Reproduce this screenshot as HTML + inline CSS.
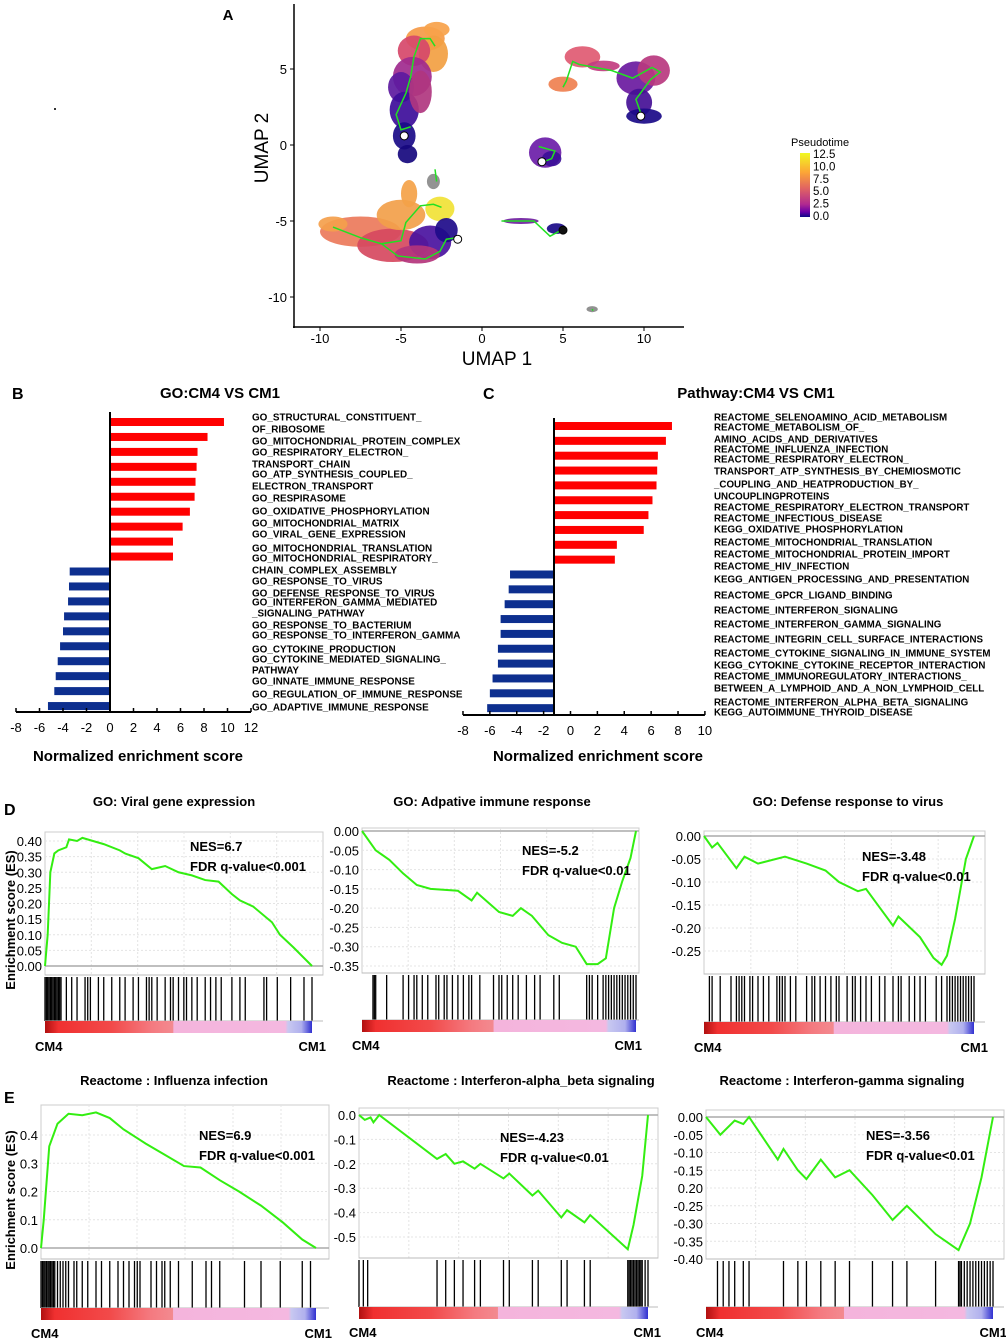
<!DOCTYPE html>
<html><head><meta charset="utf-8"><style>
html,body{margin:0;padding:0;background:#fff}
svg{display:block;font-family:"Liberation Sans",Arial,sans-serif}
</style></head><body>
<svg id="fig" width="1006" height="1339" viewBox="0 0 1006 1339" xmlns="http://www.w3.org/2000/svg">
<text x="228" y="20" font-size="15" font-weight="bold" text-anchor="middle">A</text>
<text x="12" y="399" font-size="16" font-weight="bold">B</text>
<text x="483" y="399" font-size="16" font-weight="bold">C</text>
<text x="4" y="815" font-size="16" font-weight="bold">D</text>
<text x="4" y="1103" font-size="16" font-weight="bold">E</text>
<g id="umap"></g>
<g id="barB"></g>
<g id="barC"></g>
<g id="gsea"></g>
</svg>
<script>
// ===== Bar chart data =====
const goLabels = ["GO_STRUCTURAL_CONSTITUENT_","OF_RIBOSOME","GO_MITOCHONDRIAL_PROTEIN_COMPLEX","GO_RESPIRATORY_ELECTRON_","TRANSPORT_CHAIN","GO_ATP_SYNTHESIS_COUPLED_","ELECTRON_TRANSPORT","GO_RESPIRASOME","GO_OXIDATIVE_PHOSPHORYLATION","GO_MITOCHONDRIAL_MATRIX","GO_VIRAL_GENE_EXPRESSION","GO_MITOCHONDRIAL_TRANSLATION","GO_MITOCHONDRIAL_RESPIRATORY_","CHAIN_COMPLEX_ASSEMBLY","GO_RESPONSE_TO_VIRUS","GO_DEFENSE_RESPONSE_TO_VIRUS","GO_INTERFERON_GAMMA_MEDIATED","_SIGNALING_PATHWAY","GO_RESPONSE_TO_BACTERIUM","GO_RESPONSE_TO_INTERFERON_GAMMA","GO_CYTOKINE_PRODUCTION","GO_CYTOKINE_MEDIATED_SIGNALING_","PATHWAY","GO_INNATE_IMMUNE_RESPONSE","GO_REGULATION_OF_IMMUNE_RESPONSE","GO_ADAPTIVE_IMMUNE_RESPONSE"];
const goLabelY = [417,429,441,452,464,474,486,498,511,523,534,548,558,570,581,593,602,613,625,635,649,659,670,681,694,707];
const goValues = [9.7,8.3,7.45,7.37,7.28,7.2,6.8,6.18,5.36,5.36,-3.43,-3.49,-3.57,-3.91,-4.0,-4.25,-4.45,-4.62,-4.74,-5.28];
const goTicks = [-8,-6,-4,-2,0,2,4,6,8,10,12];
const pwLabels = ["REACTOME_SELENOAMINO_ACID_METABOLISM","REACTOME_METABOLISM_OF_","AMINO_ACIDS_AND_DERIVATIVES","REACTOME_INFLUENZA_INFECTION","REACTOME_RESPIRATORY_ELECTRON_","TRANSPORT_ATP_SYNTHESIS_BY_CHEMIOSMOTIC","_COUPLING_AND_HEATPRODUCTION_BY_","UNCOUPLINGPROTEINS","REACTOME_RESPIRATORY_ELECTRON_TRANSPORT","REACTOME_INFECTIOUS_DISEASE","KEGG_OXIDATIVE_PHOSPHORYLATION","REACTOME_MITOCHONDRIAL_TRANSLATION","REACTOME_MITOCHONDRIAL_PROTEIN_IMPORT","REACTOME_HIV_INFECTION","KEGG_ANTIGEN_PROCESSING_AND_PRESENTATION","REACTOME_GPCR_LIGAND_BINDING","REACTOME_INTERFERON_SIGNALING","REACTOME_INTERFERON_GAMMA_SIGNALING","REACTOME_INTEGRIN_CELL_SURFACE_INTERACTIONS","REACTOME_CYTOKINE_SIGNALING_IN_IMMUNE_SYSTEM","KEGG_CYTOKINE_CYTOKINE_RECEPTOR_INTERACTION","REACTOME_IMMUNOREGULATORY_INTERACTIONS_","BETWEEN_A_LYMPHOID_AND_A_NON_LYMPHOID_CELL","REACTOME_INTERFERON_ALPHA_BETA_SIGNALING","KEGG_AUTOIMMUNE_THYROID_DISEASE"];
const pwLabelY = [417,427,439,449,459,471,484,496,507,518,529,542,554,566,579,595,610,624,639,653,665,676,688,702,712];
const pwValues = [7.55,7.1,6.5,6.45,6.4,6.1,5.8,5.45,3.45,3.3,-4.5,-4.6,-4.9,-5.2,-5.2,-5.4,-5.4,-5.8,-6.0,-6.2];
const pwTicks = [-8,-6,-4,-2,0,2,4,6,8,10];

// ===== GSEA data =====
const d1X=[0,0.01,0.02,0.035,0.05,0.08,0.09,0.12,0.14,0.18,0.22,0.28,0.3,0.35,0.4,0.45,0.5,0.55,0.6,0.65,0.7,0.73,0.78,0.85,0.88,0.93,1];
const d1Y=[0,0.1,0.3,0.36,0.37,0.38,0.405,0.40,0.41,0.40,0.39,0.37,0.36,0.345,0.31,0.32,0.30,0.29,0.275,0.27,0.23,0.21,0.19,0.14,0.1,0.06,0];
const d1Hits=[0,0.005,0.01,0.015,0.02,0.025,0.03,0.035,0.04,0.045,0.05,0.055,0.06,0.08,0.1,0.12,0.15,0.16,0.17,0.2,0.22,0.25,0.28,0.3,0.33,0.35,0.38,0.39,0.4,0.42,0.45,0.47,0.48,0.5,0.52,0.53,0.55,0.57,0.6,0.62,0.64,0.66,0.7,0.73,0.75,0.82,0.83,0.87,0.92,0.97,1];
const d1Ticks=[0,0.05,0.1,0.15,0.2,0.25,0.3,0.35,0.4];
const d2X=[0,0.05,0.1,0.15,0.2,0.25,0.35,0.4,0.42,0.5,0.55,0.58,0.62,0.68,0.73,0.78,0.82,0.86,0.89,0.92,0.95,0.98,1];
const d2Y=[0,-0.05,-0.075,-0.11,-0.14,-0.15,-0.155,-0.18,-0.16,-0.21,-0.22,-0.2,-0.22,-0.27,-0.29,-0.3,-0.345,-0.345,-0.33,-0.2,-0.13,-0.07,0];
const d2Hits=[0.04,0.045,0.05,0.09,0.15,0.17,0.19,0.2,0.22,0.24,0.27,0.28,0.3,0.31,0.33,0.35,0.37,0.39,0.4,0.43,0.48,0.5,0.51,0.53,0.55,0.57,0.6,0.63,0.65,0.7,0.72,0.82,0.83,0.84,0.86,0.88,0.89,0.9,0.91,0.92,0.93,0.94,0.95,0.96,0.97,0.98,0.99,1];
const d2Ticks=[0,-0.05,-0.1,-0.15,-0.2,-0.25,-0.3,-0.35];
const d3X=[0,0.03,0.05,0.12,0.15,0.2,0.3,0.38,0.45,0.5,0.57,0.6,0.65,0.7,0.72,0.8,0.85,0.88,0.9,0.93,0.97,1];
const d3Y=[0,-0.025,-0.015,-0.07,-0.045,-0.06,-0.045,-0.06,-0.075,-0.1,-0.12,-0.115,-0.155,-0.195,-0.175,-0.22,-0.265,-0.28,-0.26,-0.18,-0.05,0];
const d3Hits=[0.02,0.03,0.06,0.1,0.12,0.13,0.14,0.15,0.17,0.18,0.2,0.22,0.24,0.27,0.28,0.29,0.3,0.32,0.34,0.38,0.4,0.41,0.43,0.45,0.47,0.49,0.5,0.53,0.55,0.56,0.58,0.6,0.62,0.65,0.67,0.7,0.72,0.73,0.76,0.78,0.8,0.82,0.86,0.88,0.9,0.91,0.92,0.93,0.94,0.95,0.96,0.97,0.98,0.99,1];
const d3Ticks=[0,-0.05,-0.1,-0.15,-0.2,-0.25];
const e1X=[0,0.01,0.03,0.06,0.1,0.15,0.2,0.25,0.3,0.38,0.45,0.52,0.58,0.65,0.72,0.8,0.88,0.95,1];
const e1Y=[0,0.1,0.36,0.44,0.475,0.47,0.48,0.46,0.42,0.37,0.33,0.29,0.285,0.24,0.2,0.15,0.09,0.03,0];
const e1Hits=[0,0.005,0.01,0.015,0.02,0.025,0.03,0.035,0.04,0.045,0.05,0.06,0.07,0.08,0.09,0.1,0.12,0.13,0.15,0.17,0.2,0.22,0.25,0.28,0.3,0.32,0.34,0.35,0.36,0.4,0.42,0.44,0.45,0.47,0.5,0.55,0.6,0.62,0.65,0.74,0.8,0.87,0.95,0.98];
const e1Ticks=[0,0.1,0.2,0.3,0.4];
const e2Hits=[0.0,0.015,0.03,0.27,0.3,0.33,0.36,0.4,0.42,0.5,0.52,0.6,0.62,0.7,0.72,0.78,0.8,0.93,0.935,0.94,0.945,0.95,0.955,0.96,0.965,0.97,0.975,0.98,0.99,1];
const e2X=[0,0.02,0.04,0.05,0.07,0.27,0.3,0.33,0.36,0.4,0.42,0.5,0.52,0.6,0.62,0.7,0.72,0.78,0.8,0.93,0.95,0.98,1];
const e2Y=[0,-0.02,-0.01,-0.03,0,-0.18,-0.16,-0.2,-0.19,-0.22,-0.2,-0.26,-0.24,-0.33,-0.31,-0.42,-0.39,-0.44,-0.41,-0.55,-0.45,-0.25,0];
const e2Ticks=[0,-0.1,-0.2,-0.3,-0.4,-0.5];
const e3X=[0,0.05,0.1,0.13,0.15,0.25,0.27,0.32,0.35,0.4,0.45,0.5,0.58,0.65,0.7,0.8,0.88,0.92,0.96,1];
const e3Y=[0,-0.05,-0.01,-0.02,0,-0.12,-0.09,-0.15,-0.175,-0.12,-0.17,-0.15,-0.22,-0.29,-0.25,-0.33,-0.375,-0.3,-0.17,0];
const e3Hits=[0.04,0.06,0.08,0.1,0.13,0.15,0.27,0.32,0.35,0.4,0.45,0.5,0.58,0.65,0.7,0.8,0.88,0.885,0.89,0.9,0.91,0.92,0.93,0.94,0.95,0.96,0.97,0.98,0.99,1];
const e3Ticks=[0,-0.05,-0.1,-0.15,-0.2,-0.25,-0.3,-0.35,-0.4];
const e3TickLabels=["0.00","-0.05","-0.10","-0.15","0.20","-0.25","-0.30","-0.35","-0.40"];

// ===== UMAP legend data =====
const ptTicks=[12.5,10.0,7.5,5.0,2.5,0.0];

const NS="http://www.w3.org/2000/svg";
function mk(parent,tag,attrs,text){const e=document.createElementNS(NS,tag);for(const k in attrs)e.setAttribute(k,attrs[k]);if(text!==undefined)e.textContent=text;parent.appendChild(e);return e;}

// ===== UMAP =====
(function(){
const g=document.getElementById('umap');
const ux=u=>482+16.2*u, uy=v=>145-15.2*v;
mk(g,'rect',{x:54,y:108,width:2,height:2,fill:'#333'});
const blobs=[
 [-3.5,7,1.2,0.8,'#f59a48'],[-2.8,7.6,0.8,0.5,'#f7a24a'],[-3.0,6,0.9,1.2,'#f2a042'],[-4.2,6.2,1.0,1.0,'#d6486a'],
 [-4.3,4.5,1.2,1.3,'#a02a8e'],[-5.0,3.8,0.8,1,'#5d1aa0'],[-4.8,2.3,0.9,1.2,'#3d0d9a'],[-3.8,3.5,0.7,1.4,'#b0367f'],
 [-4.8,0.6,0.7,0.9,'#1a0b88'],[-4.6,-0.6,0.6,0.6,'#16087e'],
 [-7.5,-5.7,2.5,1.0,'#ec7a5b'],[-9.2,-5.2,0.9,0.5,'#f4a04c'],[-5.5,-6.6,2.2,1.1,'#d6495f'],[-5.0,-4.6,1.5,1.0,'#f2a04a'],
 [-4.5,-3.2,0.5,0.9,'#f4a248'],[-2.6,-4.2,0.9,0.8,'#f1e236'],[-3.2,-6.4,1.3,1.1,'#4a12a0'],[-2.2,-5.6,0.7,0.8,'#1e0b8a'],[-4,-7.2,1.4,0.6,'#b4357c'],
 [6.2,5.8,1.1,0.7,'#e05a72'],[5,4,0.9,0.5,'#ef8050'],[7.5,5.2,1.0,0.35,'#c23d80'],
 [9.5,4.4,1.2,1.1,'#6a1aa0'],[10.6,4.9,1.0,1.0,'#b8387f'],[9.7,2.8,0.8,0.9,'#451096'],[10,1.9,1.1,0.5,'#1a0a88'],
 [3.9,-0.5,1,1,'#6b1da8'],[4.3,-0.9,0.6,0.5,'#3c0f98'],[2.4,-5.0,1.1,0.2,'#7020a0'],[4.6,-5.5,0.6,0.35,'#1a0a88'],
 [-3,-2.4,0.4,0.5,'#8a8a8a'],[6.8,-10.8,0.35,0.2,'#888']
];
blobs.forEach(b=>{
 const e=mk(g,'ellipse',{cx:ux(b[0]),cy:uy(b[1]),rx:b[2]*16.2,ry:b[3]*15.2,fill:b[4],opacity:0.92});
 
 
});
const traj=[
 [[-2.9,6.5],[-3.2,7],[-3.8,7],[-4.2,5.8],[-4.4,4.5],[-4.7,3.4],[-5.3,2],[-5.0,1.0],[-4.4,1.2]],
 [[-9.2,-5.4],[-7.5,-6.1],[-6.2,-6.5],[-5.0,-6.3],[-4.7,-5.1],[-3.8,-4.0],[-3,-3.9],[-2.5,-4.1]],
 [[-6.2,-6.5],[-5.2,-7.3],[-3.5,-7.5],[-2.6,-7],[-2.2,-6.2],[-1.6,-6.1]],
 [[5,3.8],[5.2,4.2],[5.6,5.5],[6,5.3],[8,4.9],[9.3,4.4],[10.5,5.1],[11,4.8],[10.4,4.3],[9.5,3],[9.8,2.1]],
 [[3.5,-0.1],[4.5,-0.4],[4.3,-0.9],[3.8,-1.1]],
 [[1.2,-5.0],[3.2,-5.0],[4.2,-6],[4.9,-5.6]],
 [[-2.9,-1.6],[-2.8,-2.4]],[[6.8,-10.8],[6.85,-10.9]]
];
traj.forEach(t=>{
 const p=mk(g,'polyline',{points:t.map(q=>ux(q[0])+','+uy(q[1])).join(' '),fill:'none',stroke:'#22e022','stroke-width':1.5});
 
 
});
[[-4.8,0.6,'#fff'],[-1.5,-6.2,'#fff'],[3.7,-1.1,'#fff'],[9.8,1.9,'#fff'],[5,-5.6,'#111']].forEach(c=>{
 const e=mk(g,'circle',{cx:ux(c[0]),cy:uy(c[1]),r:4,fill:c[2],stroke:'#000','stroke-width':1});
 
 
});
mk(g,'line',{x1:294,y1:4,x2:294,y2:328,stroke:'#000','stroke-width':1.5,});
mk(g,'line',{x1:293,y1:327,x2:684,y2:327,stroke:'#000','stroke-width':1.5,});
[-10,-5,0,5,10].forEach(v=>{mk(g,'line',{x1:ux(v),y1:327,x2:ux(v),y2:331,stroke:'#000'});mk(g,'text',{x:ux(v),y:343,'font-size':13,'text-anchor':'middle'},String(v));});
[5,0,-5,-10].forEach(v=>{mk(g,'line',{x1:290,y1:uy(v),x2:294,y2:uy(v),stroke:'#000'});mk(g,'text',{x:287,y:uy(v)+5,'font-size':13,'text-anchor':'end'},String(v));});
mk(g,'text',{x:497,y:365,'font-size':19,'text-anchor':'middle',},'UMAP 1');
mk(g,'text',{x:268,y:148,'font-size':19,'text-anchor':'middle',transform:'rotate(-90 268 148)',},'UMAP 2');
const defs=mk(g,'defs',{});const lg=mk(defs,'linearGradient',{id:'pt',x1:0,y1:0,x2:0,y2:1});
[['0','#f0f921'],['0.3','#fca636'],['0.55','#e16462'],['0.8','#b12a90'],['0.92','#6a00a8'],['1','#0d0887']].forEach(s=>mk(lg,'stop',{offset:s[0],'stop-color':s[1]}));
mk(g,'text',{x:791,y:146,'font-size':11,},'Pseudotime');
mk(g,'rect',{x:800,y:153,width:10,height:64,fill:'url(#pt)',});
ptTicks.forEach((t,i)=>{const y=154+i*12.4;mk(g,'text',{x:813,y:y+4,'font-size':11.5},t.toFixed(1));});
})();

// ===== Bar charts =====
function barChart(gid,labels,labelY,values,ticks,o){
 const g=document.getElementById(gid);
 const sx=v=>o.zx+v*o.k;
 mk(g,'text',{x:o.titleX,y:398,'font-size':15,'font-weight':'bold','text-anchor':'middle',},o.title);
 values.forEach((v,i)=>{
  const y=o.y0+i*o.step;const x1=sx(v);const base=o.base;
  const r=mk(g,'rect',{x:Math.min(base,x1),y:y-4,width:Math.abs(x1-base),height:8,fill:v>0?'#ff0000':'#0d2f8f'});
  
  
 });
 mk(g,'line',{x1:o.base,y1:o.top,x2:o.base,y2:o.axY,stroke:'#000','stroke-width':2});
 mk(g,'line',{x1:sx(ticks[0]),y1:o.axY,x2:sx(ticks[ticks.length-1]),y2:o.axY,stroke:'#000','stroke-width':2,});
 ticks.forEach(t=>{mk(g,'line',{x1:sx(t),y1:o.axY,x2:sx(t),y2:o.axY-4,stroke:'#000','stroke-width':1.5});mk(g,'text',{x:sx(t),y:o.axY+20,'font-size':13,'text-anchor':'middle'},String(t));});
 labels.forEach((l,i)=>{const t=mk(g,'text',{x:o.lx,y:labelY[i]+3.5,'font-size':o.lfs,'font-weight':'bold'},l);});
 mk(g,'text',{x:o.xtX,y:761,'font-size':15,'font-weight':'bold','text-anchor':'middle',},'Normalized enrichment score');
}
barChart('barB',goLabels,goLabelY,goValues,goTicks,{zx:110,k:11.75,base:110,y0:422,step:14.95,top:412,axY:712,lx:252,lfs:9.9,title:'GO:CM4 VS CM1',titleX:220,xtX:138});
barChart('barC',pwLabels,pwLabelY,pwValues,pwTicks,{zx:570.5,k:13.44,base:554,y0:426,step:14.85,top:418,axY:715,lx:714,lfs:9.75,title:'Pathway:CM4 VS CM1',titleX:756,xtX:598});

// ===== GSEA =====
function gsea(o,xs,ys,hits,ticks,tickLabels){
 const g=mk(document.getElementById('gsea'),'g',{});
 
 
 const sy=v=>o.y0+(v-ticks[0])/(ticks[ticks.length-1]-ticks[0])*(o.y1-o.y0);
 const sx=f=>o.x0+f*(o.xe-o.x0);
 mk(g,'text',{x:o.tx,y:o.ty,'font-size':13,'font-weight':'bold','text-anchor':'middle',},o.title);
 mk(g,'rect',{x:o.x0,y:o.top,width:o.x1-o.x0,height:o.hb-o.top,fill:'none',stroke:'#ccc','stroke-width':1});
 for(let i=1;i<6;i++){const x=o.x0+i*(o.x1-o.x0)/6;mk(g,'line',{x1:x,y1:o.top,x2:x,y2:o.hb,stroke:'#e4e4e4','stroke-dasharray':'2,2'});}
 ticks.forEach((t,i)=>{const y=sy(t);mk(g,'line',{x1:o.x0,y1:y,x2:o.x1,y2:y,stroke:t===0?'#aaa':'#e4e4e4','stroke-dasharray':t===0?'':'2,2','stroke-width':t===0?1.5:1});
  mk(g,'text',{x:o.x0-3,y:y+5,'font-size':o.fs,'text-anchor':'end'},tickLabels?tickLabels[i]:(o.dec===1?t.toFixed(1):t.toFixed(2)));});
 const pl=mk(g,'polyline',{points:xs.map((x,i)=>sx(x)+','+sy(ys[i])).join(' '),fill:'none',stroke:'#33ee11','stroke-width':2});
 
 
 mk(g,'line',{x1:o.x0,y1:o.hb,x2:o.x1,y2:o.hb,stroke:'#bbb'});
 hits.forEach(h=>{const l=mk(g,'line',{x1:sx(h),y1:o.hb+2,x2:sx(h),y2:o.cb,stroke:'#000','stroke-width':1.3});});
 mk(g,'line',{x1:o.x0,y1:o.cb,x2:o.x1,y2:o.cb,stroke:'#bbb'});
 const id='gr'+o.name;const lg=mk(mk(g,'defs',{}),'linearGradient',{id:id,x1:0,y1:0,x2:1,y2:0});
 [['0','#b01010'],['0.05','#f03030'],['0.25','#f24a4a'],['0.4','#f47a80'],[String(o.pk),'#f38a90'],[String(o.pk+0.001),'#f4b4dc'],[String(o.lv),'#f4b8e0'],[String(o.lv+0.01),'#c8c8f0'],['0.96','#b0b0ee'],['1','#3030d0']].forEach(s=>mk(lg,'stop',{offset:s[0],'stop-color':s[1]}));
 mk(g,'rect',{x:o.x0,y:o.cb,width:o.xe-o.x0,height:12,fill:'url(#'+id+')',});
 mk(g,'text',{x:o.x0-10,y:o.cb+30,'font-size':13,'font-weight':'bold',},'CM4');
 mk(g,'text',{x:o.x1+3,y:o.cb+30,'font-size':13,'font-weight':'bold','text-anchor':'end',},'CM1');
 mk(g,'text',{x:o.nx,y:o.ny,'font-size':13,'font-weight':'bold',},o.nes);
 mk(g,'text',{x:o.nx,y:o.ny+20,'font-size':13,'font-weight':'bold',},o.fdr);
}
gsea({name:'gsea-viral-gene-expression',title:'GO: Viral gene expression',tx:174,ty:806,x0:45,x1:323,xe:312,top:832,y0:966,y1:841,hb:975,cb:1021,fs:13,dec:2,pk:0.48,lv:0.9,nx:190,ny:851,nes:'NES=6.7',fdr:'FDR q-value<0.001'},d1X,d1Y,d1Hits,d1Ticks);
gsea({name:'gsea-adaptive-immune',title:'GO: Adpative immune response',tx:492,ty:806,x0:362,x1:639,xe:636,top:828,y0:831,y1:966,hb:973,cb:1020,fs:13,dec:2,pk:0.48,lv:0.89,nx:522,ny:855,nes:'NES=-5.2',fdr:'FDR q-value<0.01'},d2X,d2Y,d2Hits,d2Ticks);
gsea({name:'gsea-defense-virus',title:'GO: Defense response to virus',tx:848,ty:806,x0:704,x1:985,xe:974,top:831,y0:836,y1:951,hb:974,cb:1022,fs:13,dec:2,pk:0.48,lv:0.9,nx:862,ny:861,nes:'NES=-3.48',fdr:'FDR q-value<0.01'},d3X,d3Y,d3Hits,d3Ticks);
gsea({name:'gsea-influenza',title:'Reactome : Influenza infection',tx:174,ty:1085,x0:41,x1:329,xe:316,top:1105,y0:1248,y1:1135,hb:1259,cb:1308,fs:13,dec:1,pk:0.48,lv:0.9,nx:199,ny:1140,nes:'NES=6.9',fdr:'FDR q-value<0.001'},e1X,e1Y,e1Hits,e1Ticks);
gsea({name:'gsea-interferon-alpha-beta',title:'Reactome : Interferon-alpha_beta signaling',tx:521,ty:1085,x0:359,x1:658,xe:648,top:1108,y0:1115,y1:1237,hb:1258,cb:1307,fs:13,dec:1,pk:0.48,lv:0.9,nx:500,ny:1142,nes:'NES=-4.23',fdr:'FDR q-value<0.01'},e2X,e2Y,e2Hits,e2Ticks);
gsea({name:'gsea-interferon-gamma',title:'Reactome : Interferon-gamma signaling',tx:842,ty:1085,x0:706,x1:1004,xe:993,top:1110,y0:1117,y1:1259,hb:1259,cb:1307,fs:13,dec:2,pk:0.48,lv:0.9,nx:866,ny:1140,nes:'NES=-3.56',fdr:'FDR q-value<0.01'},e3X,e3Y,e3Hits,e3Ticks,e3TickLabels);
(function(){const g=document.getElementById('gsea');
mk(g,'text',{x:15,y:920,'font-size':13,'font-weight':'bold','text-anchor':'middle',transform:'rotate(-90 15 920)',},'Enrichment score (ES)');
mk(g,'text',{x:15,y:1200,'font-size':13,'font-weight':'bold','text-anchor':'middle',transform:'rotate(-90 15 1200)',},'Enrichment score (ES)');})();
</script>
</body></html>
